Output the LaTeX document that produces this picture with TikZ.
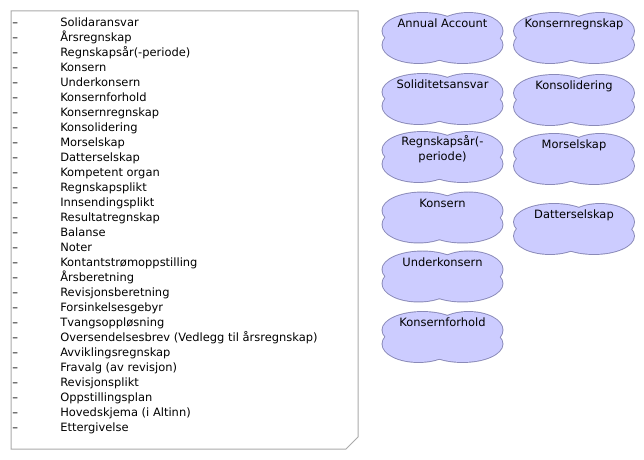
\documentclass[tikz,border=0pt]{standalone}
\usepackage{fontspec}
\setmainfont{DejaVu Sans}
\usepackage{xcolor}
\definecolor{pufffill}{HTML}{CCCCFF}
\definecolor{puffedge}{HTML}{8A8AB8}
\definecolor{pagegray}{HTML}{AAAAAA}
\newcommand{\itemdash}{\makebox[36pt][l]{--}}

\begin{document}
\begin{tikzpicture}[x=0.75pt, y=-0.75pt,
  every node/.style={font=\fontsize{8.6pt}{11.25pt}\selectfont},
  entry/.style={anchor=base west, inner sep=0pt},
  puffword/.style={anchor=base, inner sep=0pt, align=center},
  puff/.pic={
    % rim first, then fill over the inner half of it
    \draw[draw=puffedge, line width=1.4pt, fill=pufffill] (-20,-7) ellipse [x radius=40, y radius=18];
    \draw[draw=puffedge, line width=1.4pt, fill=pufffill] (26,-7) ellipse [x radius=34, y radius=18];
    \draw[draw=puffedge, line width=1.4pt, fill=pufffill] (-24,7) ellipse [x radius=36, y radius=18];
    \draw[draw=puffedge, line width=1.4pt, fill=pufffill] (20,7) ellipse [x radius=40, y radius=18];
    \fill[pufffill] (-20,-7) ellipse [x radius=40, y radius=18];
    \fill[pufffill] (26,-7) ellipse [x radius=34, y radius=18];
    \fill[pufffill] (-24,7) ellipse [x radius=36, y radius=18];
    \fill[pufffill] (20,7) ellipse [x radius=40, y radius=18];
  }]
  \useasboundingbox (0,0) rectangle (644,460);

  % Page with cut corner
  \draw[pagegray, line width=0.75pt, fill=white]
     (11,11) -- (358,11) -- (358,437) -- (346,449) -- (11,449) -- cycle;

  % Term list
  \node[entry] (e01) at (12,26.5) {\itemdash Solidaransvar};
  \node[entry] (e02) at (12,41.5) {\itemdash Årsregnskap};
  \node[entry] (e03) at (12,56.5) {\itemdash Regnskapsår(-periode)};
  \node[entry] (e04) at (12,71.5) {\itemdash Konsern};
  \node[entry] (e05) at (12,86.5) {\itemdash Underkonsern};
  \node[entry] (e06) at (12,101.5) {\itemdash Konsernforhold};
  \node[entry] (e07) at (12,116.5) {\itemdash Konsernregnskap};
  \node[entry] (e08) at (12,131.5) {\itemdash Konsolidering};
  \node[entry] (e09) at (12,146.5) {\itemdash Morselskap};
  \node[entry] (e10) at (12,161.5) {\itemdash Datterselskap};
  \node[entry] (e11) at (12,176.5) {\itemdash Kompetent organ};
  \node[entry] (e12) at (12,191.5) {\itemdash Regnskapsplikt};
  \node[entry] (e13) at (12,206.5) {\itemdash Innsendingsplikt};
  \node[entry] (e14) at (12,221.5) {\itemdash Resultatregnskap};
  \node[entry] (e15) at (12,236.5) {\itemdash Balanse};
  \node[entry] (e16) at (12,251.5) {\itemdash Noter};
  \node[entry] (e17) at (12,266.5) {\itemdash Kontantstrømoppstilling};
  \node[entry] (e18) at (12,281.5) {\itemdash Årsberetning};
  \node[entry] (e19) at (12,296.5) {\itemdash Revisjonsberetning};
  \node[entry] (e20) at (12,311.5) {\itemdash Forsinkelsesgebyr};
  \node[entry] (e21) at (12,326.5) {\itemdash Tvangsoppløsning};
  \node[entry] (e22) at (12,341.5) {\itemdash Oversendelsesbrev (Vedlegg til årsregnskap)};
  \node[entry] (e23) at (12,356.5) {\itemdash Avviklingsregnskap};
  \node[entry] (e24) at (12,371.5) {\itemdash Fravalg (av revisjon)};
  \node[entry] (e25) at (12,386.5) {\itemdash Revisjonsplikt};
  \node[entry] (e26) at (12,401.5) {\itemdash Oppstillingsplan};
  \node[entry] (e27) at (12,416.5) {\itemdash Hovedskjema (i Altinn)};
  \node[entry] (e28) at (12,431.5) {\itemdash Ettergivelse};

  % Clouds, left column
  \pic (p1) at (442.5,38) {puff};
  \node[puffword] (annual) at (442.5,28) {Annual Account};
  \pic (p2) at (442.5,99) {puff};
  \node[puffword] (solid) at (442.5,89) {Soliditetsansvar};
  \pic (p3) at (442.5,157) {puff};
  \node[puffword] (year) at (442.5,161) {Regnskapsår(-\\periode)};
  \pic (p4) at (442.5,217.5) {puff};
  \node[puffword] (group) at (442.5,207.5) {Konsern};
  \pic (p5) at (442.5,276.5) {puff};
  \node[puffword] (subgroup) at (442.5,266.5) {Underkonsern};
  \pic (p6) at (442.5,337) {puff};
  \node[puffword] (relation) at (442.5,327) {Konsernforhold};

  % Clouds, right column
  \pic (q1) at (574,38) {puff};
  \node[puffword] (groupacc) at (574,28) {Konsernregnskap};
  \pic (q2) at (574,100) {puff};
  \node[puffword] (consol) at (574,90) {Konsolidering};
  \pic (q3) at (574,159) {puff};
  \node[puffword] (parent) at (574,149) {Morselskap};
  \pic (q4) at (574,229) {puff};
  \node[puffword] (daughter) at (574,219) {Datterselskap};
\end{tikzpicture}
\end{document}
